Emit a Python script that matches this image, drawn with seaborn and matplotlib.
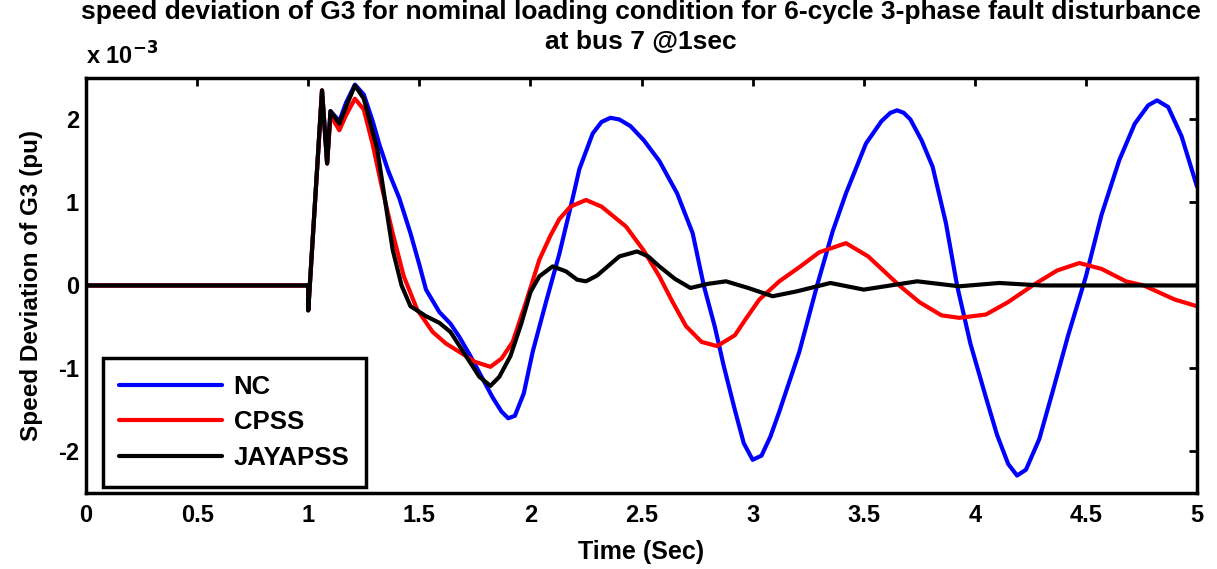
import numpy as np
import pandas as pd
import seaborn as sns
import matplotlib
matplotlib.use("Agg")
import matplotlib.pyplot as plt

# time (s) and speed deviation (x 1e-3 pu)
t_nc = [0, 1.0, 1.0, 1.062, 1.085, 1.10, 1.14, 1.17, 1.21, 1.25, 1.29, 1.32, 1.36, 1.41,
        1.46, 1.50, 1.53, 1.59, 1.64, 1.68, 1.73, 1.78, 1.83, 1.87, 1.90, 1.93, 1.97, 2.01,
        2.07, 2.13, 2.19, 2.22, 2.28, 2.32, 2.36, 2.40, 2.45, 2.51, 2.58, 2.66, 2.73, 2.78, 2.83,
        2.87, 2.92, 2.96, 3.00, 3.04, 3.08, 3.12, 3.16, 3.21, 3.29, 3.36, 3.42, 3.51,
        3.58, 3.62, 3.65, 3.68, 3.71, 3.76, 3.81, 3.87, 3.92, 3.98, 4.05, 4.10, 4.15, 4.19, 4.23,
        4.29, 4.35, 4.42, 4.50, 4.57, 4.65, 4.72, 4.78, 4.82, 4.87, 4.93, 5.0]
y_nc = [0, 0, -0.3, 2.35, 1.47, 2.1, 1.98, 2.2, 2.42, 2.3, 1.98, 1.7, 1.38, 1.05,
        0.63, 0.25, -0.05, -0.32, -0.46, -0.62, -0.85, -1.1, -1.35, -1.52, -1.6, -1.57, -1.3, -0.8,
        -0.2, 0.38, 1.05, 1.4, 1.83, 1.97, 2.02, 2.0, 1.92, 1.75, 1.5, 1.11, 0.63, 0.0, -0.5,
        -0.97, -1.5, -1.9, -2.1, -2.05, -1.82, -1.52, -1.2, -0.8, 0.0, 0.65, 1.11, 1.71,
        1.98, 2.08, 2.11, 2.08, 2.0, 1.75, 1.43, 0.75, 0.0, -0.7, -1.35, -1.8, -2.15, -2.29, -2.22,
        -1.85, -1.28, -0.6, 0.11, 0.85, 1.51, 1.95, 2.17, 2.23, 2.15, 1.8, 1.19]

t_cpss = [0, 1.0, 1.0, 1.062, 1.085, 1.10, 1.14, 1.17, 1.21, 1.25, 1.29, 1.33, 1.38, 1.43,
          1.49, 1.56, 1.62, 1.68, 1.75, 1.82, 1.87, 1.92, 1.98, 2.04, 2.09, 2.13, 2.18,
          2.25, 2.32, 2.43, 2.51, 2.58, 2.64, 2.70, 2.77, 2.84, 2.92, 2.97, 3.03, 3.12,
          3.21, 3.30, 3.42, 3.52, 3.66, 3.75, 3.85, 3.93, 4.05, 4.15, 4.26, 4.37, 4.47,
          4.57, 4.68, 4.76, 4.90, 5.0]
y_cpss = [0, 0, -0.3, 2.35, 1.47, 2.05, 1.87, 2.05, 2.25, 2.12, 1.7, 1.2, 0.63, 0.11,
          -0.29, -0.56, -0.7, -0.8, -0.92, -0.98, -0.88, -0.68, -0.2, 0.31, 0.6, 0.8, 0.95,
          1.03, 0.95, 0.71, 0.42, 0.11, -0.2, -0.49, -0.68, -0.73, -0.6, -0.4, -0.17, 0.05,
          0.22, 0.4, 0.51, 0.35, 0.0, -0.2, -0.36, -0.39, -0.35, -0.2, 0.0, 0.18, 0.27,
          0.2, 0.05, 0.0, -0.17, -0.25]

t_jaya = [0, 1.0, 1.0, 1.062, 1.085, 1.10, 1.14, 1.17, 1.21, 1.25, 1.28, 1.31, 1.35, 1.38,
          1.42, 1.46, 1.53, 1.59, 1.64, 1.71, 1.77, 1.82, 1.86, 1.91, 1.96, 2.0, 2.04,
          2.10, 2.16, 2.21, 2.25, 2.30, 2.40, 2.48, 2.53, 2.58, 2.65, 2.72, 2.80, 2.88,
          2.98, 3.09, 3.20, 3.35, 3.50, 3.62, 3.74, 3.93, 4.11, 4.3, 5.0]
y_jaya = [0, 0, -0.3, 2.35, 1.47, 2.1, 1.95, 2.15, 2.41, 2.25, 1.95, 1.65, 0.95, 0.43,
          0.0, -0.25, -0.37, -0.45, -0.56, -0.85, -1.1, -1.21, -1.1, -0.85, -0.45, -0.08, 0.11,
          0.23, 0.17, 0.07, 0.05, 0.12, 0.35, 0.41, 0.35, 0.23, 0.08, -0.03, 0.02, 0.05,
          -0.03, -0.13, -0.07, 0.03, -0.05, 0.0, 0.05, -0.01, 0.03, 0.0, 0.0]

x_ticks = [0, 0.5, 1, 1.5, 2, 2.5, 3, 3.5, 4, 4.5, 5]
y_ticks = [-2, -1, 0, 1, 2]
title_lines = ['speed deviation of G3 for nominal loading condition for 6-cycle 3-phase fault disturbance',
               'at bus 7 @1sec']

sns.set_style("white")
plt.rcParams['font.family'] = ['Liberation Sans', 'DejaVu Sans']
plt.rcParams['font.weight'] = 'bold'
plt.rcParams['mathtext.default'] = 'bf'
for key in ['text.color', 'axes.labelcolor', 'xtick.color', 'ytick.color']:
    plt.rcParams[key] = 'black'

fig = plt.figure(figsize=(12.17, 5.69), dpi=100)
ax = fig.add_axes([0.0707, 0.1336, 0.9129, 0.7294])

sns.lineplot(x=t_nc, y=y_nc, ax=ax, color='#0000ff', lw=3, estimator=None, sort=False, label='NC')
sns.lineplot(x=t_cpss, y=y_cpss, ax=ax, color='#ff0000', lw=3, estimator=None, sort=False, label='CPSS')
sns.lineplot(x=t_jaya, y=y_jaya, ax=ax, color='black', lw=3, estimator=None, sort=False, label='JAYAPSS')

ax.set_xlim(0, 5)
ax.set_ylim(-2.5, 2.5)
ax.set_xticks(x_ticks)
ax.set_xticklabels([f"{v:g}" for v in x_ticks])
ax.set_yticks(y_ticks)
ax.set_yticklabels([f"{v:g}" for v in y_ticks])
ax.tick_params(direction='in', length=6, width=2, top=True, right=True, labelsize=17)
ax.tick_params(axis='x', pad=8)
ax.tick_params(axis='y', pad=5)
for lab in ax.get_xticklabels() + ax.get_yticklabels():
    lab.set_fontweight('bold')
for sp in ax.spines.values():
    sp.set_linewidth(2.5)
    sp.set_color('black')

ax.set_xlabel('Time (Sec)', fontsize=18, fontweight='bold', labelpad=9.5)
ax.set_ylabel('Speed Deviation of G3 (pu)', fontsize=17.5, fontweight='bold', labelpad=11)

# title in two separate lines, centred over the axes
fig.text(0.5267, 0.979, title_lines[0], fontsize=19, fontweight='bold', ha='center', va='center')
fig.text(0.5267, 0.926, title_lines[1], fontsize=19, fontweight='bold', ha='center', va='center')
ax.text(0.0, 1.02, r'x 10$^{-3}$', transform=ax.transAxes, fontsize=17,
        fontweight='bold', ha='left', va='bottom')

leg = ax.legend(loc='lower left', bbox_to_anchor=(0.015, 0.015), borderaxespad=0,
                fancybox=False, framealpha=1, handlelength=4.0, fontsize=18.5,
                labelspacing=0.45, borderpad=0.65, handletextpad=0.45)
leg.get_frame().set_edgecolor('black')
leg.get_frame().set_linewidth(2.5)
for txt in leg.get_texts():
    txt.set_fontweight('bold')

fig.savefig('out.png', dpi=100)
